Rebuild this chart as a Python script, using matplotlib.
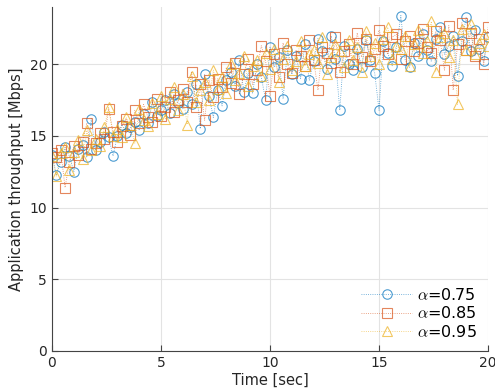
import matplotlib
matplotlib.use('Agg')
import matplotlib.pyplot as plt
import numpy as np

plt.rcParams['font.family'] = 'DejaVu Sans'
plt.rcParams['mathtext.fontset'] = 'cm'

# time axis, 0.2 s steps
t = np.arange(101) * 0.2

thr_075 = [13.7, 12.3, 13.2, 14.2, 13.6, 12.5, 14.1, 14.4, 13.5, 16.2,
           14.0, 14.6, 15.3, 14.9, 13.6, 15.0, 15.8, 15.2, 15.6, 16.0,
           15.4, 16.5, 15.9, 17.4, 16.4, 16.8, 17.5, 16.6, 17.9, 17.3,
           16.9, 18.1, 17.2, 18.6, 15.5, 19.3, 17.8, 16.3, 18.2, 17.1,
           18.9, 19.5, 18.5, 20.3, 18.1, 19.4, 18.0, 20.0, 19.1, 17.5,
           21.2, 19.8, 20.5, 17.6, 21.0, 19.3, 20.6, 19.0, 21.4, 18.9,
           20.2, 21.8, 20.9, 19.7, 22.0, 20.4, 16.8, 21.3, 20.0, 19.6,
           21.1, 19.8, 21.7, 20.3, 19.4, 16.8, 21.6, 20.8, 19.9, 21.2,
           23.4, 20.3, 19.8, 21.5, 20.6, 22.1, 21.0, 20.2, 21.8, 22.6,
           20.7, 21.3, 22.0, 19.2, 21.6, 23.3, 20.9, 22.4, 21.1, 20.2, 21.9]

thr_085 = [13.8, 13.5, 14.0, 11.4, 13.2, 14.3, 13.7, 14.6, 15.9, 14.1,
           14.5, 15.2, 14.8, 16.9, 15.3, 14.6, 15.7, 16.2, 15.1, 16.8,
           15.9, 17.2, 16.3, 16.0, 17.6, 16.4, 17.0, 18.1, 16.7, 17.5,
           18.3, 17.4, 19.5, 17.0, 18.6, 16.1, 18.9, 17.7, 19.0, 18.4,
           19.8, 18.7, 20.1, 17.9, 19.3, 20.4, 18.6, 19.6, 21.3, 20.2,
           17.8, 20.7, 19.1, 21.5, 20.0, 19.4, 21.0, 20.6, 19.9, 21.7,
           20.3, 18.2, 21.2, 20.8, 20.1, 21.9, 19.5, 20.9, 21.4, 20.0,
           22.2, 20.5, 21.8, 20.2, 21.1, 22.4, 21.3, 20.7, 21.9, 22.1,
           20.4, 21.6, 22.0, 20.9, 21.5, 22.5, 21.2, 20.8, 22.3, 21.7,
           19.6, 22.7, 18.2, 21.4, 22.9, 21.0, 22.2, 20.6, 21.8, 20.0, 22.6]

thr_095 = [13.6, 12.2, 13.8, 14.2, 12.6, 13.9, 14.7, 13.4, 15.4, 14.0,
           14.8, 14.3, 15.6, 17.0, 15.0, 15.5, 14.9, 16.3, 15.8, 14.5,
           16.9, 16.1, 15.7, 17.3, 16.5, 17.8, 16.2, 17.6, 18.4, 16.8,
           17.9, 15.8, 19.2, 17.4, 18.2, 18.8, 17.5, 19.6, 18.3, 19.1,
           18.0, 20.0, 18.9, 19.4, 20.6, 18.5, 19.9, 20.3, 19.2, 20.8,
           19.7, 21.1, 18.8, 20.4, 21.3, 19.6, 20.2, 21.6, 19.9, 20.7,
           21.0, 20.1, 21.9, 19.3, 20.5, 21.4, 20.9, 19.8, 21.7, 20.3,
           21.2, 19.5, 22.3, 20.6, 21.5, 20.0, 21.8, 22.6, 20.4, 21.3,
           21.1, 22.0, 19.9, 21.4, 22.4, 20.8, 21.6, 23.0, 19.5, 21.9,
           22.2, 20.5, 21.7, 17.2, 22.5, 21.0, 22.8, 20.7, 21.5, 22.1, 21.3]

labels = [r'$\alpha$=0.75', r'$\alpha$=0.85', r'$\alpha$=0.95']
series = [thr_075, thr_085, thr_095]
markers = ['o', 's', '^']
colors = ['#0072BD', '#D95319', '#EDB120']

fig = plt.figure(figsize=(4.95, 3.92), dpi=100)
ax = fig.add_axes([0.105, 0.105, 0.881, 0.877])

for y, m, c, lab in zip(series, markers, colors, labels):
    ax.plot(t, y, linestyle=':', linewidth=0.6, color=c, alpha=0.7,
            marker=m, markersize=6.8, markerfacecolor='none',
            markeredgewidth=0.8, label=lab)

ax.set_xlim(0, 20)
ax.set_ylim(0, 24)
ax.set_xticks([0, 5, 10, 15, 20])
ax.set_yticks([0, 5, 10, 15, 20])
ax.grid(True, color='#e3e3e3', linewidth=0.8)
ax.set_axisbelow(True)
ax.tick_params(direction='in', length=4, labelsize=10, color='#444444',
               labelcolor='#262626')
ax.spines['top'].set_visible(False)
ax.spines['right'].set_visible(False)
for s in ['left', 'bottom']:
    ax.spines[s].set_color('#444444')
ax.set_xlabel('Time [sec]', fontsize=10.5, color='#262626', labelpad=2)
ax.set_ylabel('Application throughput [Mbps]', fontsize=10.5, color='#262626', labelpad=4)

ax.legend(loc='lower right', frameon=False, fontsize=11.5, handlelength=3.2,
          handletextpad=0.3, labelspacing=0.15, borderaxespad=0.3)

fig.savefig('out.png', dpi=100)
